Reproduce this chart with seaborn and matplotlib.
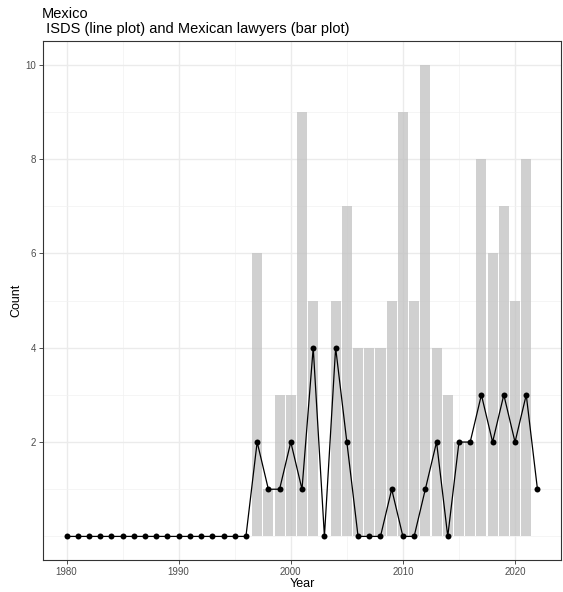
import matplotlib
matplotlib.use("Agg")
import matplotlib.pyplot as plt
import seaborn as sns
import pandas as pd
import numpy as np
from matplotlib.ticker import FixedLocator

# ISDS cases per year (line plot)
isds_years = list(range(1980, 2023))
isds_counts = [0] * 17 + [2, 1, 1, 2, 1, 4, 0, 4, 2, 0, 0, 0, 1, 0, 0, 1, 2, 0,
                          2, 2, 3, 2, 3, 2, 3, 1]

# Mexican lawyers per year (bar plot)
lawyer_years = list(range(1997, 2022))
lawyer_counts = [6, 1, 3, 3, 9, 5, 0, 5, 7, 4, 4, 4, 5, 9, 5, 10, 4, 3, 2, 2,
                 8, 6, 7, 5, 8]

title = "Mexico\n ISDS (line plot) and Mexican lawyers (bar plot)"
x_ticks = [1980, 1990, 2000, 2010, 2020]
y_ticks = [2, 4, 6, 8, 10]

isds = pd.DataFrame({"Year": isds_years, "Count": isds_counts})
lawyers = pd.DataFrame({"Year": lawyer_years, "Count": lawyer_counts})

sns.set_theme(style="white")
plt.rcParams["font.family"] = ["Liberation Sans", "DejaVu Sans"]

fig = plt.figure(figsize=(5.63, 5.92), dpi=100)
ax = fig.add_axes([43 / 563, 32 / 592, (561 - 43) / 563, (560 - 41) / 592])

# grid
for v in [1985, 1995, 2005, 2015]:
    ax.axvline(v, color="#f2f2f2", lw=0.5, zorder=0)
for v in x_ticks:
    ax.axvline(v, color="#ebebeb", lw=1.0, zorder=0)
for v in [0, 1, 3, 5, 7, 9]:
    ax.axhline(v, color="#f2f2f2", lw=0.5, zorder=0)
for v in y_ticks:
    ax.axhline(v, color="#ebebeb", lw=1.0, zorder=0)

sns.barplot(data=lawyers, x="Year", y="Count", native_scale=True, width=0.9,
            color="#bfbfbf", alpha=0.72, saturation=1, ax=ax, zorder=2,
            linewidth=0, errorbar=None)
sns.lineplot(data=isds, x="Year", y="Count", color="black", lw=0.9, ax=ax,
             marker="o", markersize=4.3, markeredgewidth=0, zorder=3)

ax.set_xlim(1977.9, 2024.1)
ax.set_ylim(-0.5, 10.5)
ax.xaxis.set_major_locator(FixedLocator(x_ticks))
ax.yaxis.set_major_locator(FixedLocator(y_ticks))
ax.set_xticklabels([str(t) for t in x_ticks])
ax.set_yticklabels([str(t) for t in y_ticks])
ax.tick_params(axis="both", which="major", length=3, width=0.6, color="#333333",
               labelsize=7, labelcolor="#4d4d4d", direction="out", pad=2,
               bottom=True, left=True)
ax.set_xlabel("Year", fontsize=9, color="black", labelpad=1)
ax.set_ylabel("Count", fontsize=9, color="black", labelpad=2)
for s in ax.spines.values():
    s.set_color("#333333")
    s.set_linewidth(0.8)
ax.grid(False)

fig.text(42 / 563, 1 - 7 / 592, title, ha="left", va="top", fontsize=10.5,
         color="black", linespacing=1.07)

fig.savefig("out.png", dpi=100)
